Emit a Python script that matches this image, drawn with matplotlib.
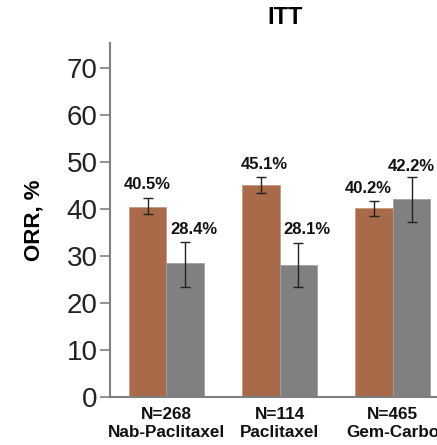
import matplotlib
matplotlib.use("Agg")
import matplotlib.pyplot as plt
import numpy as np

plt.rcParams['font.family'] = ['Liberation Sans', 'DejaVu Sans']

groups = ["N=268\nNab-Paclitaxel", "N=114\nPaclitaxel", "N=465\nGem-Carbo"]
orr_a = [40.5, 45.1, 40.2]
orr_b = [28.4, 28.1, 42.2]
ci_a_low = [38.9, 43.4, 38.4]
ci_a_high = [42.3, 46.8, 41.7]
ci_b_low = [23.5, 23.5, 37.3]
ci_b_high = [33.0, 32.8, 46.7]
labels_a = ["40.5%", "45.1%", "40.2%"]
labels_b = ["28.4%", "28.1%", "42.2%"]
yticks = [0, 10, 20, 30, 40, 50, 60, 70]

fig = plt.figure(figsize=(4.37, 4.45), dpi=100)
ax = fig.add_axes([110/437, 1-397/445, 1-110/437, (397-43)/445])

x = np.arange(len(groups))
w = 0.33
ca = "#A86A48"
cb = "#808080"
ax.bar(x - w/2, orr_a, w, color=ca, edgecolor="#C99A80", linewidth=0.6)
ax.bar(x + w/2, orr_b, w, color=cb, edgecolor="#A0A0A0", linewidth=0.6)

ea = [np.array(orr_a) - np.array(ci_a_low), np.array(ci_a_high) - np.array(orr_a)]
eb = [np.array(orr_b) - np.array(ci_b_low), np.array(ci_b_high) - np.array(orr_b)]
ax.errorbar(x - w/2, orr_a, yerr=ea, fmt="none", ecolor="#222222", elinewidth=1, capsize=3.5, capthick=1)
ax.errorbar(x + w/2, orr_b, yerr=eb, fmt="none", ecolor="#222222", elinewidth=1, capsize=3.5, capthick=1)

# label offsets (style)
dxa = [0.0, 0.03, -0.05]
dya = [4.6, 4.3, 4.1]
dxb = [0.08, 0.08, 0.0]
dyb = [7.3, 7.6, 6.9]
for i in range(len(groups)):
    ax.text(x[i] - w/2 + dxa[i], orr_a[i] + dya[i], labels_a[i], ha="center", va="center",
            fontsize=12, fontweight="bold", color="#111111")
    ax.text(x[i] + w/2 + dxb[i], orr_b[i] + dyb[i], labels_b[i], ha="center", va="center",
            fontsize=12, fontweight="bold", color="#111111")

ax.set_xlim(-0.496, 2.39)
ax.set_ylim(0, 75.3)
ax.set_yticks(yticks)
ax.set_yticklabels([str(v) for v in yticks], fontsize=20, color="#222222")
ax.set_xticks(x)
ax.set_xticklabels(groups, fontsize=12.3, fontweight="bold", color="#111111", linespacing=1.3)
ax.tick_params(axis="x", length=0, pad=7)
ax.tick_params(axis="y", length=7, width=1.2, color="#808080", pad=2)
for s in ["top", "right"]:
    ax.spines[s].set_visible(False)
for s in ["left", "bottom"]:
    ax.spines[s].set_color("#808080")
    ax.spines[s].set_linewidth(1.5)
ax.set_ylabel("ORR, %", fontsize=16, fontweight="bold", labelpad=16)

fig.text(285/437, 1-17/445, "ITT", ha="center", va="center", fontsize=17, fontweight="bold")

fig.savefig("out.png", dpi=100)
